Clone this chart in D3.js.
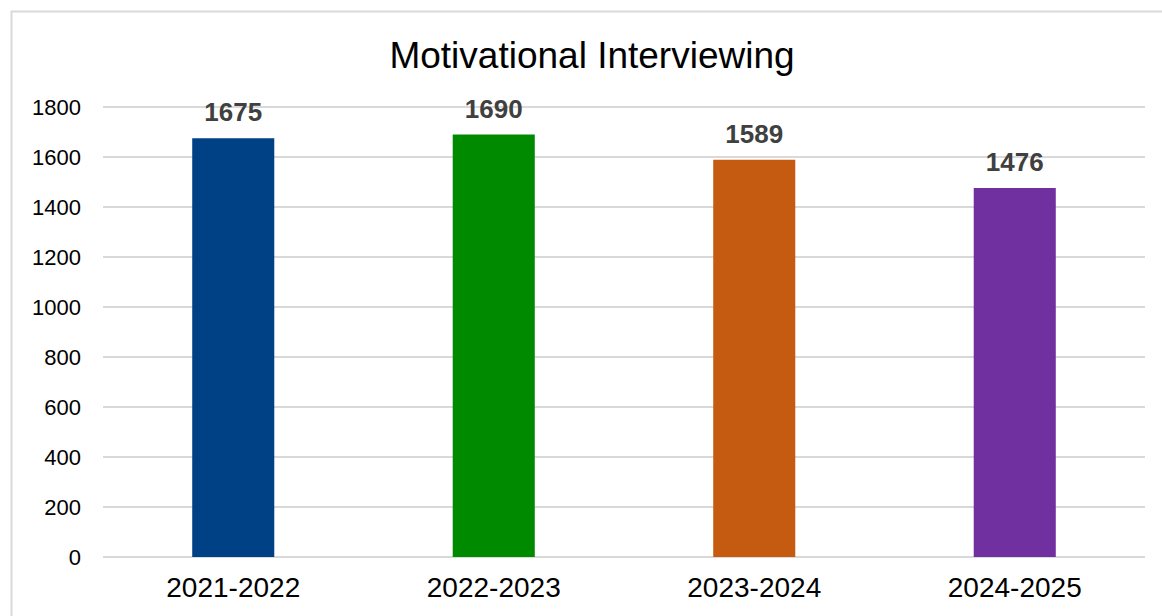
<!DOCTYPE html>
<html>
<head>
<meta charset="utf-8">
<script src="https://cdn.jsdelivr.net/npm/d3@7"></script>
<style>
  body { margin: 0; background: #fff; }
  text { font-family: "Liberation Sans", Arial, sans-serif; }
</style>
</head>
<body>
<div id="chart"></div>
<script>
var years = ["2021-2022", "2022-2023", "2023-2024", "2024-2025"];
var counts = [1675, 1690, 1589, 1476];
var barColors = ["#004185", "#008a00", "#c55a11", "#7030a0"];
var yTicks = [0, 200, 400, 600, 800, 1000, 1200, 1400, 1600, 1800];

var svgWidth = 1162;
var svgHeight = 616;

var margin = {
  top: 107,
  right: 17,
  bottom: 59,
  left: 103
};

var chartWidth = svgWidth - margin.left - margin.right;
var chartHeight = svgHeight - margin.top - margin.bottom;

var svg = d3.select("#chart")
  .append("svg")
  .attr("width", svgWidth)
  .attr("height", svgHeight);

// chart frame
svg.append("rect")
  .attr("x", 11.5)
  .attr("y", 11.5)
  .attr("width", 1170)
  .attr("height", 640)
  .attr("fill", "none")
  .attr("stroke", "#d9d9d9")
  .attr("stroke-width", 2);

svg.append("text")
  .attr("x", 592)
  .attr("y", 68)
  .attr("text-anchor", "middle")
  .attr("font-size", 37)
  .attr("fill", "#000")
  .text("Motivational Interviewing");

var plot = svg.append("g")
  .attr("transform", `translate(${margin.left}, ${margin.top})`);

var xScale = d3.scaleBand()
  .domain(years)
  .range([0, chartWidth])
  .paddingInner(0.685)
  .paddingOuter(0.3425);

var yScale = d3.scaleLinear()
  .domain([0, 1800])
  .range([chartHeight, 0]);

// gridlines
plot.append("g")
  .selectAll("line")
  .data(yTicks)
  .enter()
  .append("line")
  .attr("x1", 0)
  .attr("x2", chartWidth)
  .attr("y1", d => yScale(d))
  .attr("y2", d => yScale(d))
  .attr("stroke", "#d9d9d9")
  .attr("stroke-width", 2);

var leftAxis = d3.axisLeft(yScale)
  .tickValues(yTicks)
  .tickFormat(d3.format("d"))
  .tickSize(0)
  .tickPadding(22);
var yAxisG = plot.append("g").call(leftAxis);
yAxisG.select(".domain").remove();
yAxisG.selectAll("text")
  .attr("font-size", 22)
  .attr("fill", "#000")
  .style("font-family", "'Liberation Sans', Arial, sans-serif");

var bottomAxis = d3.axisBottom(xScale).tickSize(0).tickPadding(20);
var xAxisG = plot.append("g")
  .attr("transform", `translate(0, ${chartHeight})`)
  .call(bottomAxis);
xAxisG.select(".domain").remove();
xAxisG.selectAll("text")
  .attr("font-size", 28)
  .attr("fill", "#000")
  .style("font-family", "'Liberation Sans', Arial, sans-serif");

plot.selectAll("rect.bar")
  .data(counts)
  .enter()
  .append("rect")
  .attr("class", "bar")
  .attr("x", (d, i) => xScale(years[i]))
  .attr("y", d => yScale(d))
  .attr("width", xScale.bandwidth())
  .attr("height", d => chartHeight - yScale(d))
  .attr("fill", (d, i) => barColors[i]);

plot.selectAll("text.val")
  .data(counts)
  .enter()
  .append("text")
  .attr("class", "val")
  .attr("x", (d, i) => xScale(years[i]) + xScale.bandwidth() / 2)
  .attr("y", d => yScale(d) - 17)
  .attr("text-anchor", "middle")
  .attr("font-size", 26)
  .attr("font-weight", "bold")
  .attr("fill", "#404040")
  .text(d => d);
</script>
</body>
</html>
